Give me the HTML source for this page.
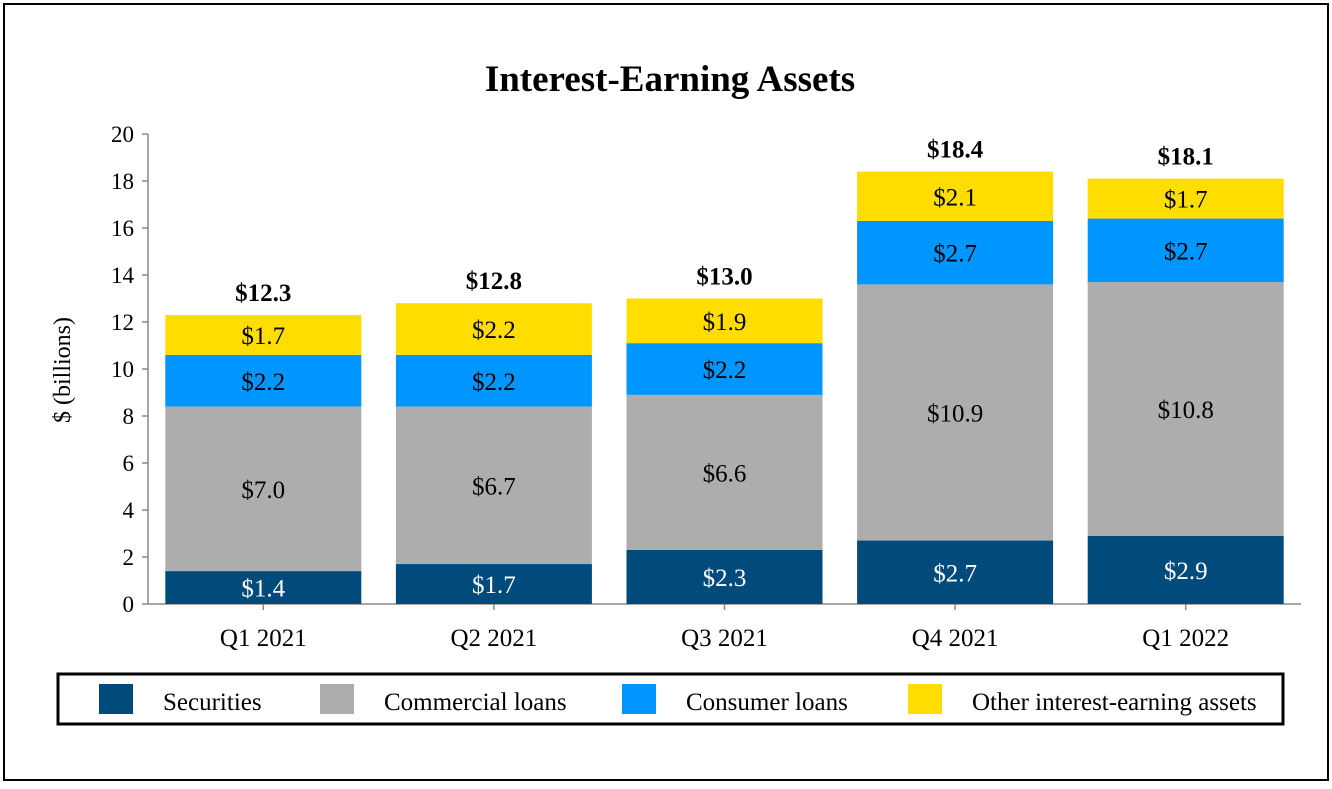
<!DOCTYPE html>
<html><head><meta charset="utf-8"><style>
body{margin:0;background:#fff;}
svg text{font-family:"Liberation Serif",serif;}
</style></head><body>
<svg width="1332" height="784" xmlns="http://www.w3.org/2000/svg">
<rect x="4" y="4" width="1324" height="776" fill="#fff" stroke="#000" stroke-width="2"/>
<text x="670" y="91" font-size="37" font-weight="bold" text-anchor="middle">Interest-Earning Assets</text>
<text transform="translate(70,370) rotate(-90)" font-size="24" text-anchor="middle">$ (billions)</text>
<g id="axes"></g>
<g id="bars"></g>
<rect x="58" y="674" width="1225" height="50" fill="#fff" stroke="#000" stroke-width="3"/>
<g id="legend"></g>
</svg>
<script>
const categories=["Q1 2021","Q2 2021","Q3 2021","Q4 2021","Q1 2022"];
const securities=[1.4,1.7,2.3,2.7,2.9];
const commercial=[7.0,6.7,6.6,10.9,10.8];
const consumer=[2.2,2.2,2.2,2.7,2.7];
const other=[1.7,2.2,1.9,2.1,1.7];
const totals=["$12.3","$12.8","$13.0","$18.4","$18.1"];
const yTicks=[0,2,4,6,8,10,12,14,16,18,20];
const seriesNames=["Securities","Commercial loans","Consumer loans","Other interest-earning assets"];
const colors=["#004b7c","#adadad","#0096ff","#ffdd00"];
const textColors=["#fff","#000","#000","#000"];
const NS="http://www.w3.org/2000/svg";
const L=148,R=1301,Y0=604,Ymax=134;
const y=v=>Y0-(v/20)*(Y0-Ymax);
const bw=(R-L)/categories.length;
const xc=i=>L+bw*(i+0.5);
function mk(t,a,p){const e=document.createElementNS(NS,t);for(const k in a)e.setAttribute(k,a[k]);p.appendChild(e);return e;}
const ax=document.getElementById('axes');
let e=mk('line',{x1:L,y1:Ymax,x2:L,y2:Y0,stroke:'#888','stroke-width':1.5},ax);


e=mk('line',{x1:L,y1:Y0,x2:R,y2:Y0,stroke:'#888','stroke-width':1.5},ax);


yTicks.forEach(t=>{
 mk('line',{x1:L-6,y1:y(t),x2:L,y2:y(t),stroke:'#888','stroke-width':1.5},ax);
 const tx=mk('text',{x:L-14,y:y(t)+8,'font-size':23,'text-anchor':'end'},ax);
 tx.textContent=t;
 
 
});
const series=[securities,commercial,consumer,other];
const bg=document.getElementById('bars');
categories.forEach((c,i)=>{
 mk('line',{x1:xc(i),y1:Y0,x2:xc(i),y2:Y0+6,stroke:'#888','stroke-width':1.5},ax);
 const lt=mk('text',{x:xc(i),y:Y0+42,'font-size':25,'text-anchor':'middle'},ax);
 lt.textContent=c;
 
 
 let base=0;
 series.forEach((s,k)=>{
  const v=s[i];
  const r=mk('rect',{x:xc(i)-98,y:y(base+v),width:196,height:y(base)-y(base+v),fill:colors[k]},bg);
  
  
  const t=mk('text',{x:xc(i),y:(y(base)+y(base+v))/2+9,'font-size':25,'text-anchor':'middle',fill:textColors[k]},bg);
  t.textContent='$'+v.toFixed(1);
  
  
  base+=v;
 });
 const tt=mk('text',{x:xc(i),y:y(base)-14,'font-size':25,'font-weight':'bold','text-anchor':'middle'},bg);
 tt.textContent=totals[i];
 
 
});
const lg=document.getElementById('legend');
const lx=[99,320,622,908];
seriesNames.forEach((n,k)=>{
 const s=mk('rect',{x:lx[k],y:684,width:34,height:30,fill:colors[k]},lg);
 
 
 const t=mk('text',{x:lx[k]+64,y:710,'font-size':25},lg);
 t.textContent=n;
 
 
});
</script>
</body></html>
